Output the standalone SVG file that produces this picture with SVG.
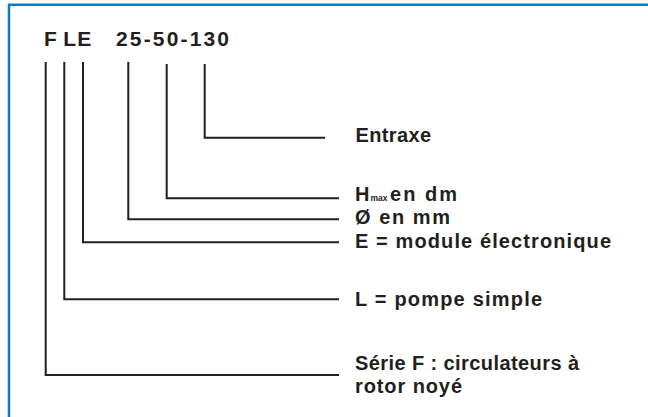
<svg xmlns="http://www.w3.org/2000/svg" width="648" height="417" viewBox="0 0 648 417">
<style>
.t{font-family:"Liberation Sans","Open Sans",sans-serif;font-weight:bold;fill:#231f20}
.title{font-size:21px}
.lab{font-size:20px}
.sub{font-size:8.5px}
.ln{fill:none;stroke:#231f20;stroke-width:2}
</style>
<rect width="648" height="417" fill="#ffffff"/>
<path d="M9,417 V4.8 H648" fill="none" stroke="#0d7bc4" stroke-width="2.5"/>
<g id="title">
<text class="t title" x="44" y="46">F</text>
<text class="t title" x="63.3" y="46">L</text>
<text class="t title" x="77.3" y="46">E</text>
<text class="t title" x="116" y="46" textLength="113">25-50-130</text>
</g>
<g id="connectors">
<polyline class="ln" points="45.7,62 45.7,375 339,375"/>
<polyline class="ln" points="64.3,62 64.3,299.3 339,299.3"/>
<polyline class="ln" points="83,62 83,242.3 339,242.3"/>
<polyline class="ln" points="128.3,62 128.3,219.3 339,219.3"/>
<polyline class="ln" points="166.7,64 166.7,198.3 339,198.3"/>
<polyline class="ln" points="204.7,64 204.7,137.7 325,137.7"/>
</g>
<g id="entraxe"><text class="t lab" x="355.5" y="142" textLength="75.5">Entraxe</text></g>
<g id="hmax"><text class="t lab" x="355" y="201">H<tspan class="sub" x="370.5">max</tspan><tspan x="390" textLength="67">en dm</tspan></text></g>
<g id="diam"><text class="t lab" x="355" y="224" textLength="95">Ø en mm</text></g>
<g id="module"><text class="t lab" x="355" y="248" textLength="256">E = module électronique</text></g>
<g id="pompe"><text class="t lab" x="355" y="306" textLength="187">L = pompe simple</text></g>
<g id="serie">
<text class="t lab" x="355" y="370" textLength="224">Série F : circulateurs à</text>
<text class="t lab" x="355" y="393" textLength="107">rotor noyé</text>
</g>
</svg>
